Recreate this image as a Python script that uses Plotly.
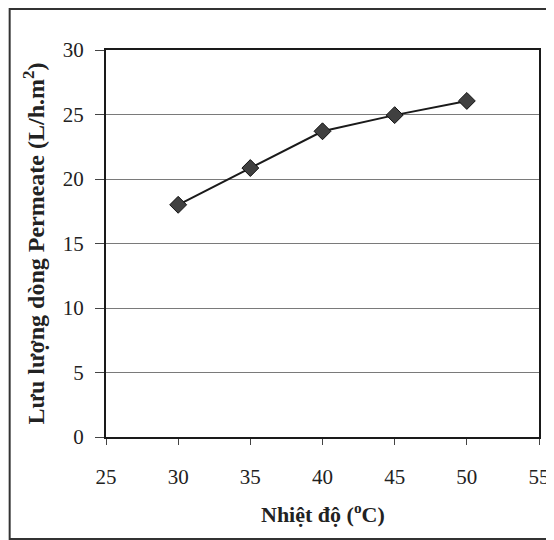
import plotly.graph_objects as go

temps = [30, 35, 40, 45, 50]
flux = [18.0, 20.85, 23.7, 24.95, 26.05]
x_ticks = [25, 30, 35, 40, 45, 50, 55]
y_ticks = [0, 5, 10, 15, 20, 25, 30]
x_title = "<b>Nhiệt độ (<sup>o</sup>C)</b>"
y_title = "<b>Lưu lượng dòng Permeate (L/h.m<sup>2</sup>)</b>"

# page offset of the plot div (body margin)
OFF = 8
W, H = 554, 540
L, R, T, B = 106 - OFF, 542 - OFF, 50 - OFF, 437 - OFF
pw, ph = R - L, B - T


def px(x):
    return (x - OFF - L) / pw


def py(y):
    return (B - (y - OFF)) / ph


fig = go.Figure()
fig.add_trace(go.Scatter(
    x=temps, y=flux, mode="lines+markers",
    line=dict(color="#1a1a1a", width=2),
    marker=dict(symbol="diamond", size=13, color="#404040",
                line=dict(color="#111", width=1)),
    showlegend=False, cliponaxis=False,
))

font = dict(family="Liberation Serif, Times New Roman, serif", color="#222")

fig.update_layout(
    width=W, height=H,
    margin=dict(l=L, r=W - R, t=T, b=H - B),
    paper_bgcolor="white", plot_bgcolor="white",
    font=dict(size=21, **font),
    xaxis=dict(
        range=[25, 55], tickvals=x_ticks, ticktext=[str(v) for v in x_ticks],
        showgrid=False, zeroline=False,
        showline=True, linecolor="#1a1a1a", linewidth=2, mirror=True,
        ticks="outside", ticklen=6, tickcolor="#444", tickwidth=1,
        ticklabelstandoff=14,
        tickfont=dict(size=21, **font),
    ),
    yaxis=dict(
        range=[0, 30], tickvals=y_ticks,
        showgrid=True, gridcolor="#7a7a7a", gridwidth=1,
        zeroline=False,
        showline=True, linecolor="#1a1a1a", linewidth=2, mirror=True,
        ticks="outside", ticklen=9, tickcolor="#444", tickwidth=1,
        ticklabelstandoff=7,
        tickfont=dict(size=21, **font),
        title=dict(text=y_title, font=dict(size=24, **font), standoff=11),
    ),
    annotations=[dict(
        text=x_title, xref="paper", yref="paper",
        x=0.5, y=py(513), xanchor="center", yanchor="middle",
        showarrow=False, font=dict(size=22, **font),
    )],
    shapes=[dict(
        type="rect", xref="paper", yref="paper",
        x0=px(9), x1=px(570), y0=py(539), y1=py(9),
        line=dict(color="#333", width=2), fillcolor="rgba(0,0,0,0)",
        layer="below",
    )],
)

fig.write_html("out.html")
